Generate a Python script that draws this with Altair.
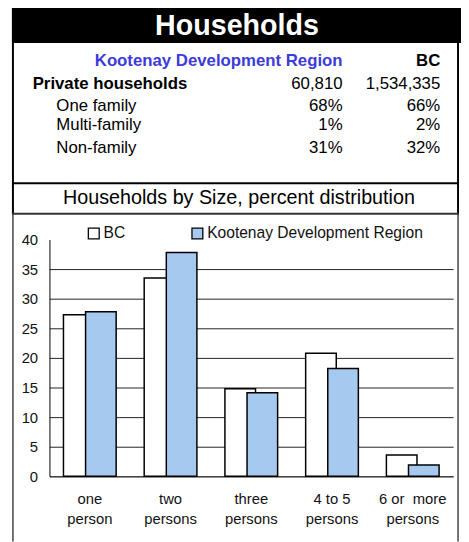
import altair as alt
import pandas as pd

# ---- data ----
categories = ["one\nperson", "two\npersons", "three\npersons", "4 to 5\npersons", "6 or\u00a0 more\npersons"]
bc_values = [27.3, 33.5, 14.8, 20.8, 3.6]
kdr_values = [27.8, 37.8, 14.1, 18.2, 1.9]
series = ["BC", "Kootenay Development Region"]
y_ticks = [0, 5, 10, 15, 20, 25, 30, 35, 40]

table_header = ["Kootenay Development Region", "BC"]
table_rows = ["Private households", "One family", "Multi-family", "Non-family"]
table_kdr = ["60,810", "68%", "1%", "31%"]
table_bc = ["1,534,335", "66%", "2%", "32%"]

title_main = "Households"
title_chart = "Households by Size, percent distribution"

FONT = "Liberation Sans"
BLUE_FILL = "#a6c9ef"
HEADER_BLUE = "#3b3bdb"

# plot-area origin in page coordinates
OX, OY = 50, 239


def px(x):
    return x - OX


def py(y):
    return y - OY


df = pd.DataFrame({
    "category": categories * 2,
    "series": [series[0]] * len(categories) + [series[1]] * len(categories),
    "value": bc_values + kdr_values,
})

one = pd.DataFrame({"k": [0]})
base = alt.Chart(one)

color = alt.Color(
    "series:N",
    scale=alt.Scale(domain=series, range=["#ffffff", BLUE_FILL]),
    legend=alt.Legend(
        title=None, orient="none", direction="horizontal",
        legendX=px(87), legendY=py(225), padding=0,
        symbolType="square", symbolSize=121, symbolStrokeColor="black",
        symbolStrokeWidth=1.3, labelFontSize=15.8, labelFont=FONT,
        labelColor="#111", labelOffset=2, columnPadding=64, symbolOpacity=1,
        labelLimit=400,
    ),
)

xenc = alt.X(
    "category:N", sort=categories, title=None,
    scale=alt.Scale(paddingInner=0, paddingOuter=0),
    axis=alt.Axis(
        labelExpr="split(datum.label, '\\n')", labelAngle=0, labelFontSize=15,
        labelFont=FONT, labelColor="#111", labelLineHeight=20, labelPadding=16,
        ticks=False, tickSize=0, domainColor="#333", domainWidth=1, grid=False,
    ),
)
yenc = alt.Y(
    "value:Q", title=None,
    scale=alt.Scale(domain=[0, 40], nice=False),
    axis=alt.Axis(
        values=y_ticks, labelFontSize=15, labelFont=FONT, labelColor="#111",
        labelPadding=12, ticks=False, tickSize=0, domainColor="black",
        domainWidth=1, grid=True, gridColor="#222", gridWidth=1,
        gridOpacity={"condition": {"test": "datum.value === 40", "value": 0}, "value": 1},
    ),
)

bars_bc = alt.Chart(df).transform_filter(alt.datum.series == series[0]).mark_bar(
    width=31, xOffset=-11.2, stroke="black", strokeWidth=1.5
).encode(x=xenc, y=yenc, color=color)

bars_kdr = alt.Chart(df).transform_filter(alt.datum.series == series[1]).mark_bar(
    width=31, xOffset=11.2, stroke="black", strokeWidth=1.5
).encode(x=xenc, y=yenc, color=color)

layers = []

# black title band
layers.append(base.mark_rect(color="black").encode(
    x=alt.value(px(12)), x2=alt.value(px(467)), y=alt.value(py(0)), y2=alt.value(py(40))))


def hline(y, x1, x2, c="black", w=2):
    return base.mark_rule(color=c, strokeWidth=w).encode(
        x=alt.value(px(x1)), x2=alt.value(px(x2)), y=alt.value(py(y)))


def vline(x, y1, y2, c="black", w=2):
    return base.mark_rule(color=c, strokeWidth=w).encode(
        x=alt.value(px(x)), y=alt.value(py(y1)), y2=alt.value(py(y2)))


layers += [
    vline(13, 0, 213), vline(464, 0, 213),
    vline(13, 213, 545, c="#444", w=1.5), vline(464, 213, 545, c="#444", w=1.5),
    hline(182, 12, 465), hline(213, 12, 465, c="#333"),
]

layers += [bars_bc, bars_kdr]


def text(t, x, y, size=17, bold=False, align="left", c="black"):
    return base.mark_text(
        align=align, baseline="alphabetic", font=FONT, fontSize=size,
        fontWeight="bold" if bold else "normal", color=c,
    ).encode(x=alt.value(px(x)), y=alt.value(py(y)), text=alt.value(t))


layers.append(text(title_main, 240, 32, size=29, bold=True, align="center", c="white"))
layers.append(text(table_header[0], 347, 63, bold=True, align="right", c=HEADER_BLUE))
layers.append(text(table_header[1], 446, 63, bold=True, align="right"))
row_y = [87, 109, 128, 151]
for i, lab in enumerate(table_rows):
    layers.append(text(lab, 33 if i == 0 else 57, row_y[i], bold=(i == 0)))
    layers.append(text(table_kdr[i], 347, row_y[i], align="right"))
    layers.append(text(table_bc[i], 446, row_y[i], align="right"))
layers.append(text(title_chart, 242, 203, size=20, align="center"))

chart = alt.layer(*layers).properties(
    width=409, height=240,
    autosize=alt.AutoSizeParams(type="none"),
    padding={"left": 42, "top": 231, "right": 8, "bottom": 63},
    background="white",
).configure_view(stroke=None)

chart.save("out.html", embed_options={"renderer": "svg", "actions": False})
